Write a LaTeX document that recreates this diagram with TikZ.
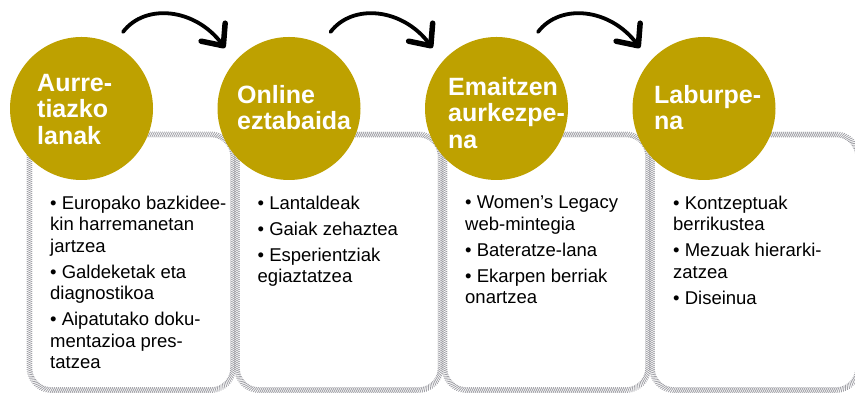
\documentclass[tikz,border=0pt]{standalone}
\usepackage{fontspec}
\setmainfont{Liberation Sans}
\usetikzlibrary{arrows.meta,calc,decorations.markings}
\definecolor{gold}{RGB}{190,161,0}
\definecolor{hatchgray}{RGB}{160,160,166}
\begin{document}
\begin{tikzpicture}[x=1pt,y=1pt,
  stepcircle/.style={circle, fill=gold, minimum size=143pt, inner sep=0pt},
  titletext/.style={anchor=north west, inner sep=0pt, align=left, text=white, font=\fontsize{25}{26.5}\selectfont\bfseries},
  itemtext/.style={anchor=north west, inner sep=0pt, align=left, text=black, font=\fontsize{18.5}{21.5}\selectfont},
  boxframe/.style={minimum height=255.5pt, inner sep=0pt, outer sep=0pt, anchor=north west},
  hatchband/.style={rounded corners=22pt, postaction={decorate, decoration={markings, mark=between positions 0 and 1 step 2pt with {\draw[hatchgray, line width=0.8pt] (-1.4pt,-2.8pt) -- (1.4pt,2.8pt);}}}},
  flowarrow/.style={line width=3.8pt, line cap=round, -{Straight Barb[length=17pt,width=30pt,line width=5.5pt,round]}}
]
\useasboundingbox (0,0) rectangle (855,393);
\fill[white] (0,0) rectangle (855,393);

% frames
\node[boxframe, minimum width=203.5pt] (b1) at (29.5,258.5) {};
\node[boxframe, minimum width=203.5pt] (b2) at (237,258.5) {};
\node[boxframe, minimum width=203.5pt] (b3) at (444.5,258.5) {};
\node[boxframe, minimum width=206pt] (b4) at (652,258.5) {};
\foreach \b in {b1,b2,b3,b4}
  \path[hatchband] (\b.north west) rectangle (\b.south east);

% circles
\node[stepcircle] (c1) at (81.5,284.5) {};
\node[stepcircle] (c2) at (289,284.5) {};
\node[stepcircle] (c3) at (496.5,284.5) {};
\node[stepcircle] (c4) at (704,284.5) {};

% titles
\node[titletext] (t1) at (37,319) {Aurre-\\tiazko\\lanak};
\node[titletext] (t2) at (237,308) {Online\\eztabaida};
\node[titletext] (t3) at (448,316) {Emaitzen\\aurkezpe-\\na};
\node[titletext] (t4) at (654,308) {Laburpe-\\na};

% items
\node[itemtext] (i1) at (50,197.2) {• Europako bazkidee-\\kin harremanetan\\jartzea\\[4.5pt]• Galdeketak eta\\diagnostikoa\\[4.5pt]• Aipatutako doku-\\mentazioa pres-\\tatzea};
\node[itemtext] (i2) at (257.5,197.2) {• Lantaldeak\\[4.5pt]• Gaiak zehaztea\\[4.5pt]• Esperientziak\\egiaztatzea};
\node[itemtext] (i3) at (465,197.2) {• Women’s Legacy\\web-mintegia\\[4.5pt]• Bateratze-lana\\[4.5pt]• Ekarpen berriak\\onartzea};
\node[itemtext] (i4) at (673,197.2) {• Kontzeptuak\\berrikustea\\[4.5pt]• Mezuak hierarki-\\zatzea\\[4.5pt]• Diseinua};

% arrows
\foreach \i/\j in {1/2,2/3,3/4}{
  \coordinate (s\i) at ($(c\i)+(41.5,76.5)$);
  \coordinate (e\i) at ($(c\j)+(-64,60.5)$);
  \draw[flowarrow] (s\i) .. controls +(22,29) and +(-30,40) .. (e\i);
}
\end{tikzpicture}
\end{document}
